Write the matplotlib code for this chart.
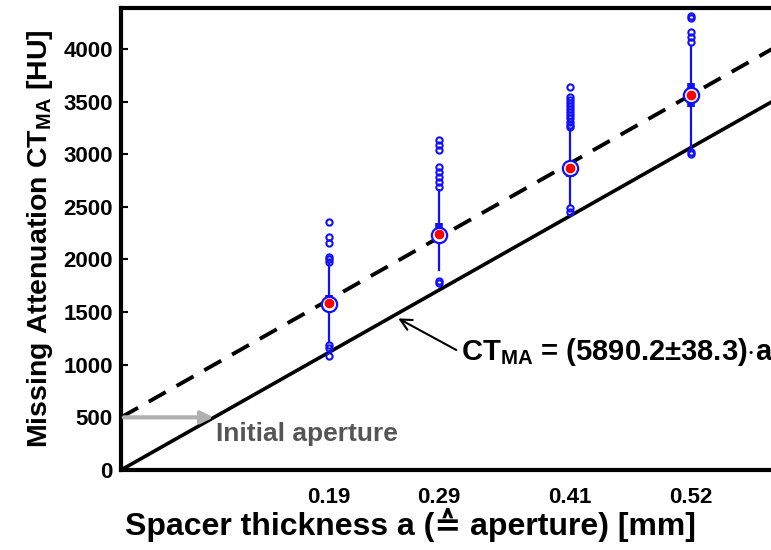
import matplotlib
matplotlib.use("Agg")
import matplotlib.pyplot as plt

plt.rcParams['font.family'] = ['Liberation Sans', 'DejaVu Sans']
plt.rcParams['font.weight'] = 'bold'
plt.rcParams['mathtext.fontset'] = 'custom'
plt.rcParams['mathtext.rm'] = 'Liberation Sans:bold'
plt.rcParams['mathtext.bf'] = 'Liberation Sans:bold'

# spacer thickness positions and labels
thickness = [0.19, 0.29, 0.41, 0.52]
tick_labels = ['0.19', '0.29', '0.41', '0.52']

# box plot statistics per spacer (HU)
medians = [1580, 2235, 2865, 3560]
means = [1585, 2245, 2865, 3560]
q1 = [1505, 2210, 2780, 3450]
q3 = [1660, 2345, 2920, 3675]
whisk_lo = [1215, 1900, 2515, 3045]
whisk_hi = [1955, 2660, 3240, 4030]
outliers = [
    [2360, 2215, 2160, 2020, 2000, 1980, 1190, 1160, 1085],
    [3135, 3090, 3040, 2880, 2830, 2785, 2735, 2690, 1800, 1780],
    [3640, 3545, 3520, 3490, 3460, 3430, 3400, 3370, 3340, 3310, 3280, 3260, 2490, 2455],
    [4310, 4295, 4160, 4115, 4070, 3025, 3005],
]

# fit lines
slope = 5890.2
offset = 500
a_line = [0.0, 0.62]

fig = plt.figure(figsize=(7.71, 5.5), dpi=100)
ax = fig.add_axes([0.157, 0.1455, 0.881, 0.84])

ax.plot(a_line, [slope * a for a in a_line], color='black', lw=2.6, zorder=2)
ax.plot(a_line, [offset + slope * a for a in a_line], color='black', lw=2.8,
        dashes=(5, 3.2), zorder=2)

for i, a in enumerate(thickness):
    ax.plot([a, a], [whisk_lo[i], whisk_hi[i]], color='#1010ff', lw=1.6, zorder=3)
    ax.plot([a, a], [q1[i], q3[i]], color='#1010ff', lw=5.5, solid_capstyle='butt', zorder=3)
    ax.plot([a] * len(outliers[i]), outliers[i], 'o', mfc='none', mec='#1010ff',
            ms=4.5, mew=1.5, zorder=3)
    ax.plot(a, medians[i], 'o', mfc='white', mec='#1010ff', ms=11, mew=1.6, zorder=4)
    ax.plot(a, means[i], 'o', color='red', ms=6, zorder=5)

ax.set_xlim(0, 0.62)
ax.set_ylim(0, 4390)
ax.set_xticks(thickness)
ax.set_xticklabels(tick_labels)
ax.set_yticks(range(0, 4001, 500))
ax.tick_params(axis='y', direction='in', length=5, width=1.5, labelsize=16, pad=6)
ax.tick_params(axis='x', length=0, labelsize=16, pad=12)
for lab in ax.get_xticklabels() + ax.get_yticklabels():
    lab.set_fontweight('bold')

for side in ['left', 'bottom', 'top']:
    ax.spines[side].set_linewidth(3)
ax.spines['right'].set_visible(False)

ax.set_ylabel(r'Missing Attenuation CT$_\mathbf{MA}$ [HU]', fontsize=20.5, fontweight='bold', labelpad=6)
ax.set_xlabel('Spacer thickness a (\u2259 aperture) [mm]', fontsize=23, fontweight='bold')
ax.xaxis.set_label_coords(0.4256, -0.083)

ax.annotate('', xy=(0.0, offset), xytext=(0.087, offset),
            arrowprops=dict(arrowstyle='<|-', color='#b0b0b0', lw=3, mutation_scale=18))
ax.text(0.087, 340, 'Initial aperture', fontsize=19, fontweight='bold', color='#555555',
        va='center', ha='left')

ax.annotate('', xy=(0.253, 1440), xytext=(0.306, 1140),
            arrowprops=dict(arrowstyle='->', color='black', lw=1.5, mutation_scale=20,
                            shrinkA=0, shrinkB=0))
ax.text(0.3105, 1120, r'CT$_\mathbf{MA}$ = (5890.2$\pm$38.3)$\cdot$a', fontsize=21,
        fontweight='bold', va='center', ha='left', clip_on=False)

fig.savefig('out.png', dpi=100)
